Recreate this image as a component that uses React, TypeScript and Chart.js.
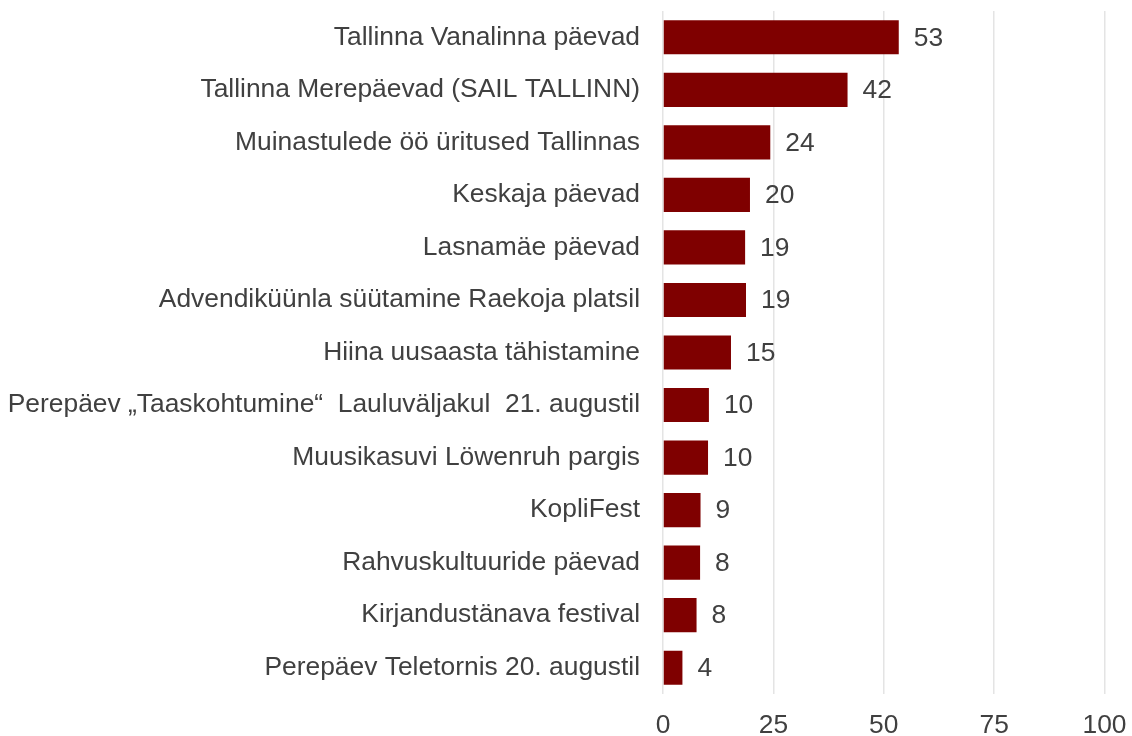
import React, { useEffect, useRef } from "react";
import { Chart, registerables } from "chart.js";

Chart.register(...registerables);

const categories: string[] = [
  "Tallinna Vanalinna päevad",
  "Tallinna Merepäevad (SAIL TALLINN)",
  "Muinastulede öö üritused Tallinnas",
  "Keskaja päevad",
  "Lasnamäe päevad",
  "Advendiküünla süütamine Raekoja platsil",
  "Hiina uusaasta tähistamine",
  "Perepäev „Taaskohtumine“  Lauluväljakul  21. augustil",
  "Muusikasuvi Löwenruh pargis",
  "KopliFest",
  "Rahvuskultuuride päevad",
  "Kirjandustänava festival",
  "Perepäev Teletornis 20. augustil",
];

const values: number[] = [53.4, 41.8, 24.3, 19.7, 18.6, 18.8, 15.4, 10.4, 10.2, 8.5, 8.4, 7.6, 4.4];

const xTicks: number[] = [0, 25, 50, 75, 100];

const FONT = "'Liberation Sans', Arial, sans-serif";
const FONT_SIZE = 26.4;
const TEXT = "#404040";

const valueLabels = {
  id: "valueLabels",
  afterDatasetsDraw(chart: any) {
    const ctx = chart.ctx;
    const meta = chart.getDatasetMeta(0);
    ctx.save();
    ctx.font = `${FONT_SIZE}px ${FONT}`;
    ctx.fillStyle = TEXT;
    ctx.textAlign = "left";
    ctx.textBaseline = "middle";
    meta.data.forEach((bar: any, i: number) => {
      const v = chart.data.datasets[0].data[i] as number;
      ctx.fillText(String(Math.round(v)), bar.x + 15, bar.y + 1);
    });
    ctx.restore();
  },
};

export default function App() {
  const ref = useRef<HTMLCanvasElement | null>(null);

  useEffect(() => {
    document.body.style.margin = "0";
    const canvas = ref.current!;
    const chart = new Chart(canvas, {
      type: "bar",
      data: {
        labels: categories,
        datasets: [
          {
            data: values,
            backgroundColor: "#7f0000",
            borderWidth: 0,
            barPercentage: 0.65,
            categoryPercentage: 1,
          },
        ],
      },
      options: {
        indexAxis: "y",
        animation: false,
        responsive: false,
        maintainAspectRatio: false,
        layout: { padding: { top: 11, right: 27.5, bottom: 0, left: 0 } },
        plugins: {
          legend: { display: false },
          tooltip: { enabled: false },
        },
        scales: {
          x: {
            min: 0,
            max: 100,
            afterBuildTicks(scale: any) {
              scale.ticks = xTicks.map((v) => ({ value: v }));
            },
            afterFit(scale: any) {
              scale.height = 42;
              scale.paddingLeft = 0;
              scale.paddingRight = 0;
            },
            grid: { color: "#e4e4e4", lineWidth: 1.5, drawTicks: false },
            border: { display: false },
            ticks: {
              padding: 16,
              color: TEXT,
              font: { family: FONT, size: FONT_SIZE },
            },
          },
          y: {
            afterFit(scale: any) {
              scale.width = 663;
              scale.paddingTop = 0;
              scale.paddingBottom = 0;
            },
            grid: { display: false, drawTicks: false },
            border: { display: false },
            ticks: {
              padding: 23,
              color: TEXT,
              font: { family: FONT, size: FONT_SIZE },
              autoSkip: false,
            },
          },
        },
      },
      plugins: [valueLabels],
    });
    return () => chart.destroy();
  }, []);

  return (
    <div style={{ width: 1132, height: 736, background: "#fff" }}>
      <canvas ref={ref} width={1132} height={736} style={{ display: "block" }} />
    </div>
  );
}
